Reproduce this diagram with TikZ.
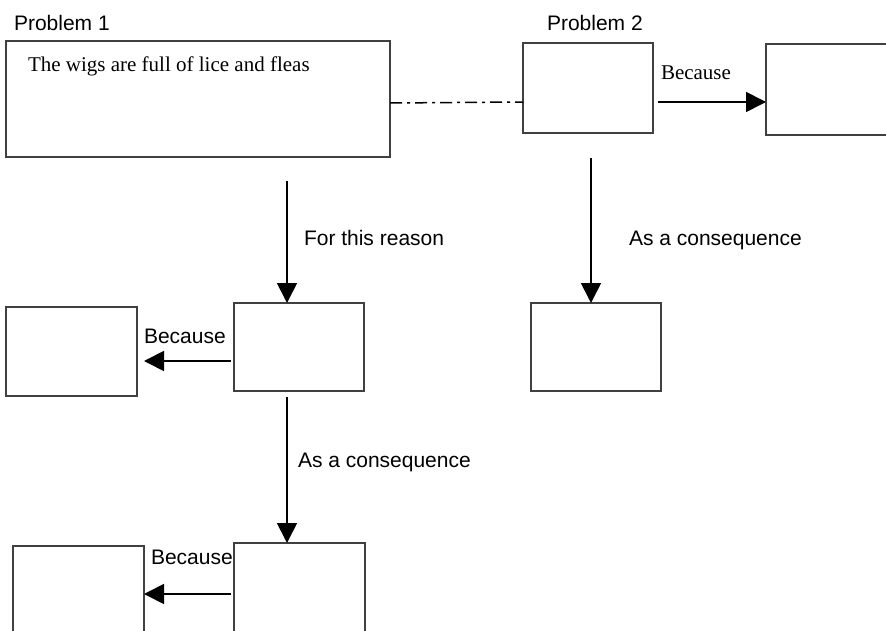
\documentclass[tikz,border=0pt]{standalone}
\usepackage{fontspec}
\setmainfont{Liberation Sans}
\newfontfamily\wordserif{Liberation Serif}
\usetikzlibrary{arrows.meta,calc}

\begin{document}
\begin{tikzpicture}[x=1pt,y=-1pt,line cap=rect,
	box/.style={draw=col_40_40_40, line width=1.3pt, inner sep=0, outer sep=0},
	lbl/.style={inner sep=0, outer sep=0, anchor=base west, col_0_0_0, font=\fontsize{21pt}{21pt}\selectfont},
	seriflbl/.style={lbl, font=\fontsize{21pt}{21pt}\selectfont\wordserif},
	conn/.style={line width=1.7pt, col_0_0_0, -{Triangle[length=20pt, width=20pt]}},
	dashdot/.style={line width=1.5pt, col_0_0_0, line cap=butt, dash pattern=on 12pt off 5pt on 3pt off 5pt}]
	\definecolor{col_40_40_40}{RGB}{64, 64, 64}
	\definecolor{col_0_0_0}{RGB}{0, 0, 0}
	\clip (0,0) rectangle (886,631);
	% problem boxes
	\node[box, minimum width=384, minimum height=116] (A) at (198,99) {};
	\node[box, minimum width=130, minimum height=90] (B) at (588,88) {};
	\node[box, minimum width=130, minimum height=91] (C) at (831,89.5) {};
	\node[lbl] (p1) at (14,31) {Problem 1};
	\node[lbl] (p2) at (547,31) {Problem 2};
	\node[seriflbl] (wigs) at (28,72) {The wigs are full of lice and fleas};
	% second row
	\node[box, minimum width=130, minimum height=88] (D) at (299,347) {};
	\node[box, minimum width=130, minimum height=88] (E) at (596,347) {};
	\node[box, minimum width=131, minimum height=89] (F) at (71.5,351.5) {};
	% third row
	\node[box, minimum width=131, minimum height=90] (G) at (299.5,588) {};
	\node[box, minimum width=131, minimum height=90] (H) at (78.5,591) {};
	% connectors
	\draw[dashdot] ($(A.east)+(0,4)$) -- ($(B.west)+(0,14)$);
	\draw[conn] ($(B.east)+(6,14)$) -- ($(B.east -| C.west)+(0,14)$);
	\node[seriflbl] (because1) at (661,80) {Because};
	\draw[conn] ($(D.north |- A.south)+(-12,25)$) -- ($(D.north)+(-12,0)$);
	\node[lbl] (reason) at (304,245) {For this reason};
	\draw[conn] ($(E.north |- B.south)+(-5,26)$) -- ($(E.north)+(-5,0)$);
	\node[lbl] (conseq1) at (629,245) {As a consequence};
	\draw[conn] ($(D.west)+(-4,14)$) -- ($(D.west -| F.east)+(7,14)$);
	\node[lbl] (because2) at (144,343) {Because};
	\draw[conn] ($(D.south)+(-12,7)$) -- ($(G.north)+(-12.5,0)$);
	\node[lbl] (conseq2) at (298,467) {As a consequence};
	\draw[conn] ($(G.west)+(-4,6)$) -- ($(G.west -| H.east)+(0,6)$);
	\node[lbl] (because3) at (151,564) {Because};
\end{tikzpicture}
\end{document}
